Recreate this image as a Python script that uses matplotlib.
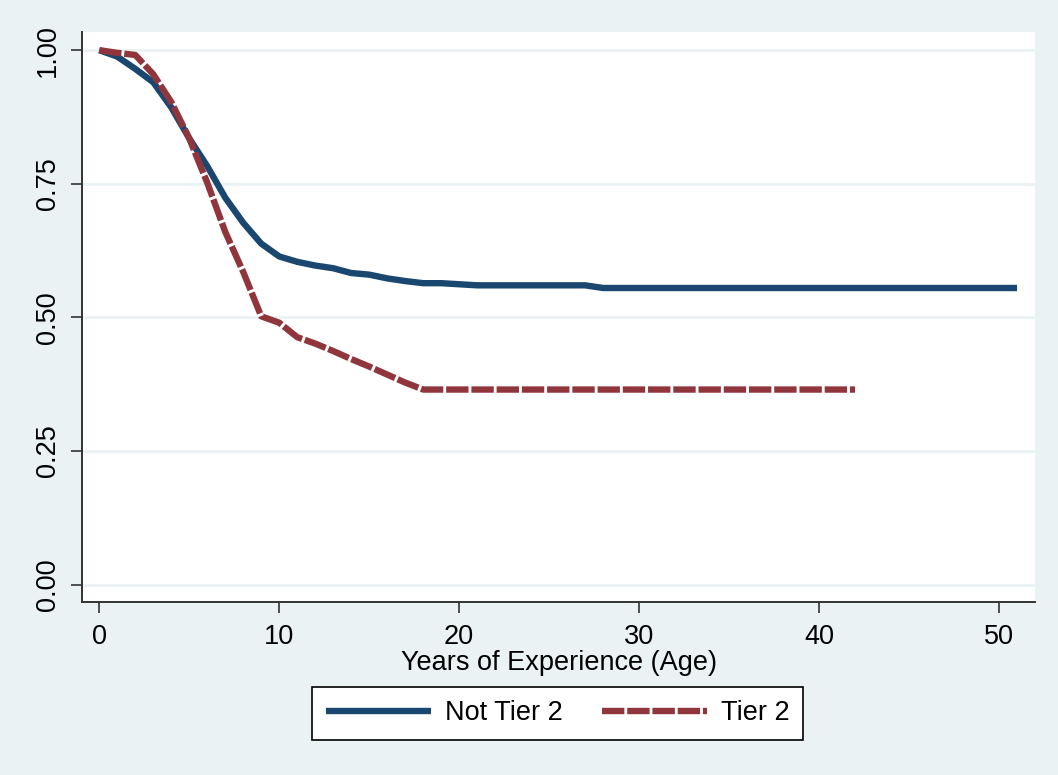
import matplotlib.pyplot as plt

plt.rcParams['font.family'] = ['Liberation Sans', 'DejaVu Sans']

# survival estimates
years_not_tier2 = list(range(0, 52))
surv_not_tier2 = [1.000, 0.988, 0.965, 0.940, 0.893, 0.835, 0.783, 0.724, 0.677, 0.638,
                  0.614, 0.604, 0.597, 0.592, 0.583, 0.580, 0.573, 0.568, 0.564, 0.564,
                  0.562, 0.560, 0.560, 0.560, 0.560, 0.560, 0.560, 0.560, 0.555, 0.555,
                  0.555, 0.555, 0.555, 0.555, 0.555, 0.555, 0.555, 0.555, 0.555, 0.555,
                  0.555, 0.555, 0.555, 0.555, 0.555, 0.555, 0.555, 0.555, 0.555, 0.555,
                  0.555, 0.555]

years_tier2 = list(range(0, 43))
surv_tier2 = [1.000, 0.995, 0.991, 0.955, 0.903, 0.835, 0.752, 0.660, 0.585, 0.502,
              0.490, 0.463, 0.451, 0.437, 0.422, 0.408, 0.393, 0.378, 0.365, 0.365,
              0.365, 0.365, 0.365, 0.365, 0.365, 0.365, 0.365, 0.365, 0.365, 0.365,
              0.365, 0.365, 0.365, 0.365, 0.365, 0.365, 0.365, 0.365, 0.365, 0.365,
              0.365, 0.365, 0.365]

xticks = [0, 10, 20, 30, 40, 50]
yticks = [0.0, 0.25, 0.5, 0.75, 1.0]

bg = '#eaf2f3'
navy = '#1a476f'
maroon = '#90353b'

fig = plt.figure(figsize=(10.58, 7.75), dpi=100, facecolor=bg)
ax = fig.add_axes([0.0775, 0.2236, 0.9008, 0.7351])
ax.set_facecolor('white')

ax.plot(years_not_tier2, surv_not_tier2, color=navy, lw=4.6, label='Not Tier 2',
        solid_capstyle='butt')
ax.plot(years_tier2, surv_tier2, color=maroon, lw=4.6, label='Tier 2',
        linestyle=(0, (3.5, 0.45)), dash_capstyle='butt')

ax.set_xlim(-0.96, 52.0)
ax.set_ylim(-0.032, 1.034)
ax.set_xticks(xticks)
ax.set_yticks(yticks)
ax.set_yticklabels(['%.2f' % v for v in yticks], rotation=90, va='center')
ax.tick_params(axis='both', labelsize=19.5, length=8, width=1.2, color='#333333')
ax.tick_params(axis='x', pad=8)
ax.tick_params(axis='y', pad=7)

ax.grid(axis='y', color=bg, lw=2)
ax.set_axisbelow(True)
for side in ['top', 'right']:
    ax.spines[side].set_visible(False)
for side in ['left', 'bottom']:
    ax.spines[side].set_color('#333333')
    ax.spines[side].set_linewidth(1.4)

ax.set_xlabel('Years of Experience (Age)', fontsize=19.5, labelpad=0)

leg = fig.legend(loc='upper center', bbox_to_anchor=(0.527, 0.114), ncol=2, fontsize=19.5,
                 frameon=True, fancybox=False, edgecolor='black', facecolor='white',
                 framealpha=1, handlelength=3.9, handletextpad=0.5, columnspacing=1.45,
                 borderpad=0.5, borderaxespad=0)
leg.get_frame().set_linewidth(1.2)

fig.savefig('out.png', dpi=100, facecolor=bg)
